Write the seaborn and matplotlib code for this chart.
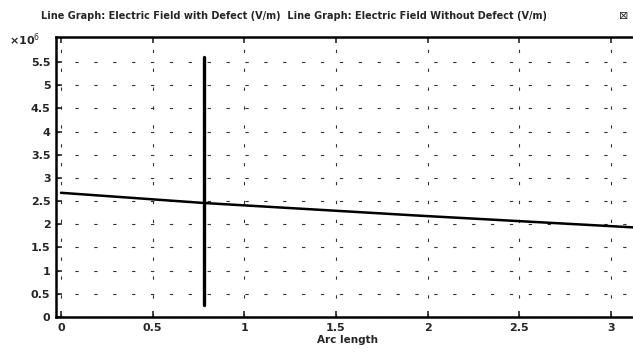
import matplotlib
matplotlib.use("Agg")
import matplotlib.pyplot as plt
import seaborn as sns
import pandas as pd
from matplotlib.ticker import FuncFormatter

# line graph 1: field along the cut line crossing the defect
arc_with = [0.78, 0.78]
field_with = [0.25e6, 5.62e6]

# line graph 2: field along the arc without the defect
arc_without = [0.0, 0.78, 1.94, 3.14]
field_without = [2.68e6, 2.46e6, 2.19e6, 1.93e6]

x_ticks = [0, 0.5, 1, 1.5, 2, 2.5, 3]
y_ticks = [0, 0.5e6, 1e6, 1.5e6, 2e6, 2.5e6, 3e6, 3.5e6, 4e6, 4.5e6, 5e6, 5.5e6]
title = "Line Graph: Electric Field with Defect (V/m)  Line Graph: Electric Field Without Defect (V/m)"

df_with = pd.DataFrame({"arc": arc_with, "E": field_with})
df_without = pd.DataFrame({"arc": arc_without, "E": field_without})

sns.set_style("ticks")
plt.rcParams['font.family'] = ['DejaVu Sans']

fig = plt.figure(figsize=(6.33, 3.59), dpi=100)
ax = fig.add_axes([0.0885, 0.117, 0.92, 0.781])

sns.lineplot(data=df_without, x="arc", y="E", ax=ax, color="black",
             linewidth=1.8, estimator=None, sort=False)
sns.lineplot(data=df_with, x="arc", y="E", ax=ax, color="black",
             linewidth=2.4, estimator=None, sort=False)

ax.set_xlim(-0.027, 3.15)
ax.set_ylim(0, 6.05e6)
ax.set_xticks(x_ticks)
ax.set_yticks(y_ticks)
ax.xaxis.set_major_formatter(FuncFormatter(lambda v, p: "%g" % v))
ax.yaxis.set_major_formatter(FuncFormatter(lambda v, p: "%g" % (v / 1e6)))

ax.grid(True, color="#333333", linestyle=(0, (3, 14)), linewidth=0.8)
ax.tick_params(direction="in", top=True, right=False, length=4, width=1.2,
               labelsize=8, pad=4)
for lab in ax.get_xticklabels() + ax.get_yticklabels():
    lab.set_fontweight("bold")
for s in ax.spines.values():
    s.set_linewidth(1.8)
    s.set_color("black")

ax.set_xlabel("Arc length", fontsize=7.5, fontweight="bold", labelpad=2)
ax.set_ylabel("")
ax.text(-0.08, 0.99, "×10$^6$", transform=ax.transAxes, fontsize=8,
        fontweight="bold", ha="left", va="center")
fig.text(0.465, 0.955, title, fontsize=7, fontweight="bold", ha="center", va="center")
fig.text(0.985, 0.955, "⊠", fontsize=8, ha="center", va="center")

fig.savefig("out.png", dpi=100)
